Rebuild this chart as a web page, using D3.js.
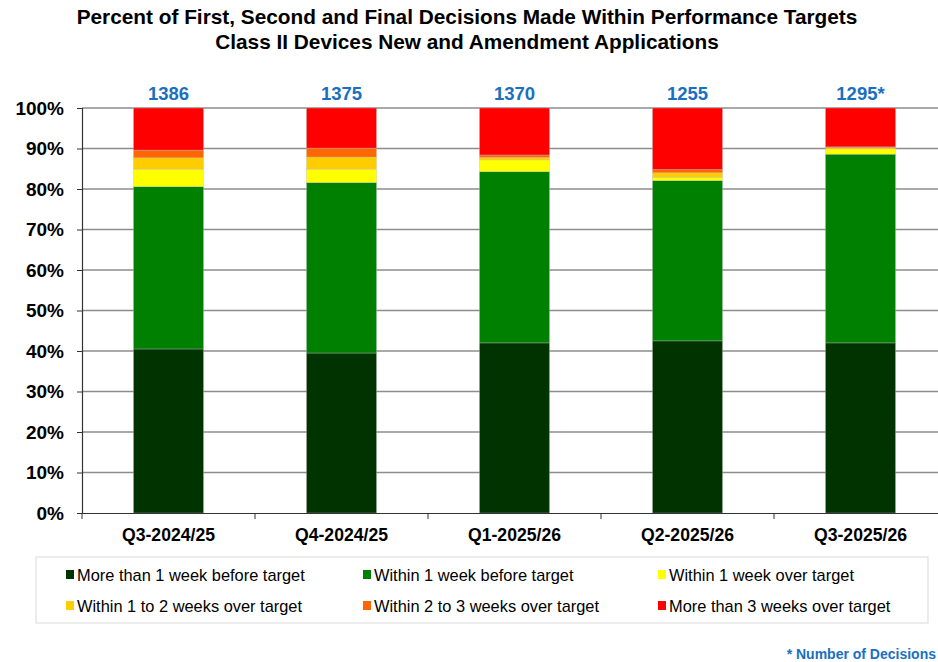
<!DOCTYPE html>
<html>
<head>
<meta charset="utf-8">
<script src="https://cdn.jsdelivr.net/npm/d3@7"></script>
<style>
  body { margin: 0; background: #fff; }
  svg { font-family: Arial, "Liberation Sans", sans-serif; display: block; }
</style>
</head>
<body>
<div id="chart"></div>
<script>
const quarters = ["Q3-2024/25", "Q4-2024/25", "Q1-2025/26", "Q2-2025/26", "Q3-2025/26"];
const decisionCounts = ["1386", "1375", "1370", "1255", "1295*"];
const seriesNames = [
    "More than 1 week before target",
    "Within 1 week before target",
    "Within 1 week over target",
    "Within 1 to 2 weeks over target",
    "Within 2 to 3 weeks over target",
    "More than 3 weeks over target"
];
const seriesColors = ["#003300", "#008000", "#ffff00", "#ffcc00", "#ff6600", "#ff0000"];
// percent per quarter, one array per series
const moreThan1WeekBefore = [40.5, 39.5, 42.0, 42.5, 42.0];
const within1WeekBefore   = [40.1, 42.1, 42.3, 39.6, 46.6];
const within1WeekOver     = [4.3, 3.3, 2.9, 0.8, 1.3];
const within1to2WeeksOver = [2.8, 3.0, 0.6, 1.1, 0.3];
const within2to3WeeksOver = [1.9, 2.2, 0.6, 0.8, 0.2];
const moreThan3WeeksOver  = [10.4, 9.9, 11.6, 15.2, 9.6];
const yTicks = [0, 10, 20, 30, 40, 50, 60, 70, 80, 90, 100];

const seriesValues = [moreThan1WeekBefore, within1WeekBefore, within1WeekOver,
    within1to2WeeksOver, within2to3WeeksOver, moreThan3WeeksOver];

const table = quarters.map((q, i) => {
    const row = { quarter: q };
    seriesNames.forEach((s, j) => row[s] = seriesValues[j][i]);
    return row;
});

const width = 938;
const height = 662;
const margin = { left: 82, top: 108, bottom: 149 };
const plotWidth = 865;

const svg = d3.select("#chart")
    .append("svg")
    .attr("width", width)
    .attr("height", height);

const x = d3.scaleBand()
    .domain(quarters)
    .range([margin.left, margin.left + plotWidth])
    .paddingInner(0.595)
    .paddingOuter(0.2975);

const y = d3.scaleLinear()
    .domain([0, 100])
    .range([height - margin.bottom, margin.top]);

const color = d3.scaleOrdinal().domain(seriesNames).range(seriesColors);

// title
svg.append("text")
    .attr("x", 467).attr("y", 24)
    .attr("text-anchor", "middle")
    .style("font-size", "20.8px").style("font-weight", "bold")
    .text("Percent of First, Second and Final Decisions Made Within Performance Targets");
svg.append("text")
    .attr("x", 467).attr("y", 49)
    .attr("text-anchor", "middle")
    .style("font-size", "20.8px").style("font-weight", "bold")
    .text("Class II Devices New and Amendment Applications");

// gridlines
svg.append("g")
    .selectAll("line")
    .data(yTicks.filter(d => d > 0))
    .enter().append("line")
    .attr("x1", margin.left).attr("x2", margin.left + plotWidth)
    .attr("y1", d => y(d)).attr("y2", d => y(d))
    .attr("stroke", "#8c8c8c")
    .attr("stroke-width", 1.5);

// stacked bars
const stacked = d3.stack().keys(seriesNames)(table);

svg.append("g")
    .selectAll("g")
    .data(stacked)
    .enter().append("g")
    .attr("fill", d => color(d.key))
    .selectAll("rect")
    .data(d => d)
    .enter().append("rect")
    .attr("x", d => x(d.data.quarter))
    .attr("y", d => y(d[1]))
    .attr("width", x.bandwidth())
    .attr("height", d => y(d[0]) - y(d[1]))
    .attr("stroke", "rgba(190,190,190,0.6)")
    .attr("stroke-width", 0.6);

// decision counts
svg.append("g")
    .selectAll("text")
    .data(quarters)
    .enter().append("text")
    .attr("x", d => x(d) + x.bandwidth() / 2)
    .attr("y", 100)
    .attr("text-anchor", "middle")
    .style("font-size", "18.5px").style("font-weight", "bold")
    .style("fill", "#1a70c0")
    .text((d, i) => decisionCounts[i]);

// y axis
const yAxis = svg.append("g")
    .attr("transform", `translate(${margin.left},0)`)
    .call(d3.axisLeft(y).tickValues(yTicks).tickFormat(d => d + "%").tickSize(5).tickPadding(13));
yAxis.select(".domain").attr("stroke", "#333").attr("stroke-width", 1.2);
yAxis.selectAll(".tick line").attr("stroke", "#333");
yAxis.selectAll("text")
    .style("font-size", "19px").style("font-weight", "bold")
    .style("font-family", "Arial, 'Liberation Sans', sans-serif")
    .attr("fill", "#000");

// x axis
const xAxis = svg.append("g")
    .attr("transform", `translate(0,${y(0)})`)
    .call(d3.axisBottom(x).tickSize(0).tickPadding(16));
xAxis.select(".domain").attr("stroke", "#333").attr("stroke-width", 1.2);
xAxis.selectAll("text")
    .style("font-size", "17.6px").style("font-weight", "bold")
    .style("font-family", "Arial, 'Liberation Sans', sans-serif")
    .attr("fill", "#000");

// category separator ticks
const step = x.step();
svg.append("g")
    .selectAll("line")
    .data(d3.range(quarters.length + 1))
    .enter().append("line")
    .attr("x1", i => margin.left + i * step)
    .attr("x2", i => margin.left + i * step)
    .attr("y1", y(0)).attr("y2", y(0) + 6)
    .attr("stroke", "#333");

// legend
const legend = svg.append("g");
legend.append("rect")
    .attr("x", 36).attr("y", 557)
    .attr("width", 892).attr("height", 66)
    .attr("fill", "#fff")
    .attr("stroke", "#d9d9d9");

const legendCols = [66, 363, 658];
const legendRows = [575, 606];

const items = legend.selectAll(".legend-item")
    .data(seriesNames)
    .enter().append("g")
    .attr("class", "legend-item")
    .attr("transform", (d, i) => `translate(${legendCols[i % 3]},${legendRows[Math.floor(i / 3)]})`);

items.append("rect")
    .attr("x", 0).attr("y", -5)
    .attr("width", 8).attr("height", 9)
    .attr("fill", d => color(d));

items.append("text")
    .attr("x", 11).attr("y", 5.5)
    .style("font-size", "16.4px")
    .text(d => d);

// footnote
svg.append("text")
    .attr("x", 936).attr("y", 659)
    .attr("text-anchor", "end")
    .style("font-size", "14px").style("font-weight", "bold")
    .style("fill", "#1a70c0")
    .text("* Number of Decisions");
</script>
</body>
</html>
